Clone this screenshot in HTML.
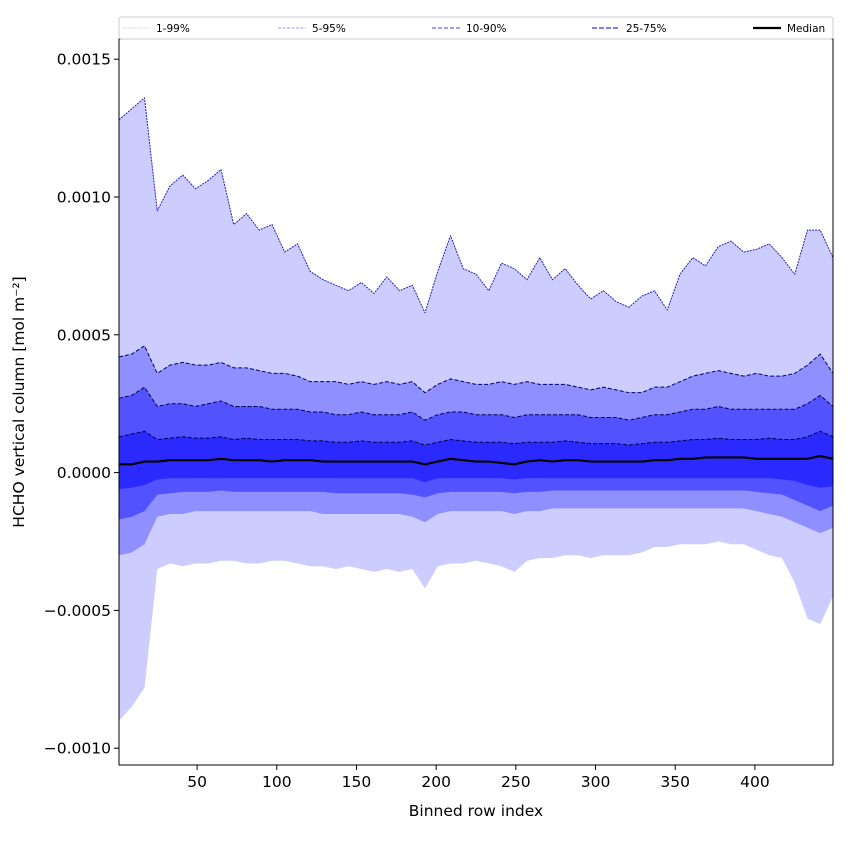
<!DOCTYPE html>
<html><head><meta charset="utf-8"><style>
body{margin:0;background:#fff;}
svg{font-family:"DejaVu Sans","Liberation Sans",sans-serif;}
</style></head><body>
<svg id="chart" width="850" height="850" viewBox="0 0 850 850">
<g id="plot"></g>
<g id="axes"></g>
<g id="legend"></g>
</svg>
<script>
const UNIT = 1e-4;
const bins = [1,9,17,25,33,41,49,57,65,73,81,89,97,105,113,121,129,137,145,153,161,169,177,185,193,201,209,217,225,233,241,249,257,265,273,281,289,297,305,313,321,329,337,345,353,361,369,377,385,393,401,409,417,425,433,441,449];
const p99 = [12.8,13.2,13.6,9.5,10.4,10.8,10.3,10.6,11.0,9.0,9.4,8.8,9.0,8.0,8.3,7.3,7.0,6.8,6.6,6.9,6.5,7.1,6.6,6.8,5.8,7.3,8.6,7.4,7.2,6.6,7.6,7.4,7.0,7.8,7.0,7.4,6.8,6.3,6.6,6.2,6.0,6.4,6.6,5.9,7.2,7.8,7.5,8.2,8.4,8.0,8.1,8.3,7.8,7.2,8.8,8.8,7.8];
const p95 = [4.2,4.3,4.6,3.6,3.9,4.0,3.9,3.9,4.0,3.8,3.8,3.7,3.6,3.6,3.5,3.3,3.3,3.3,3.2,3.3,3.2,3.3,3.2,3.3,2.9,3.2,3.4,3.3,3.2,3.2,3.3,3.2,3.3,3.2,3.2,3.2,3.1,3.0,3.1,3.0,2.9,2.9,3.1,3.1,3.3,3.5,3.6,3.7,3.6,3.5,3.6,3.5,3.5,3.6,3.9,4.3,3.6];
const p90 = [2.7,2.8,3.1,2.4,2.5,2.5,2.4,2.5,2.6,2.4,2.4,2.4,2.3,2.3,2.3,2.2,2.2,2.1,2.1,2.2,2.1,2.1,2.1,2.2,1.9,2.1,2.2,2.2,2.1,2.1,2.1,2.0,2.1,2.1,2.1,2.1,2.1,2.0,2.0,2.0,1.9,2.0,2.1,2.1,2.2,2.3,2.3,2.4,2.3,2.3,2.3,2.3,2.3,2.3,2.5,2.8,2.4];
const p75 = [1.3,1.4,1.5,1.2,1.25,1.3,1.25,1.25,1.3,1.2,1.25,1.2,1.2,1.2,1.2,1.15,1.15,1.1,1.1,1.15,1.1,1.1,1.1,1.15,1.0,1.1,1.2,1.15,1.1,1.1,1.1,1.05,1.1,1.1,1.1,1.15,1.1,1.05,1.05,1.05,1.0,1.05,1.1,1.1,1.15,1.2,1.2,1.25,1.2,1.2,1.2,1.25,1.2,1.2,1.3,1.5,1.3];
const p50 = [0.3,0.3,0.4,0.4,0.45,0.45,0.45,0.45,0.5,0.45,0.45,0.45,0.4,0.45,0.45,0.45,0.4,0.4,0.4,0.4,0.4,0.4,0.4,0.4,0.3,0.4,0.5,0.45,0.4,0.4,0.35,0.3,0.4,0.45,0.4,0.45,0.45,0.4,0.4,0.4,0.4,0.4,0.45,0.45,0.5,0.5,0.55,0.55,0.55,0.55,0.5,0.5,0.5,0.5,0.5,0.6,0.5];
const p25 = [-0.6,-0.55,-0.45,-0.25,-0.2,-0.2,-0.2,-0.2,-0.2,-0.2,-0.2,-0.2,-0.2,-0.2,-0.2,-0.2,-0.2,-0.2,-0.2,-0.2,-0.2,-0.2,-0.2,-0.2,-0.35,-0.2,-0.2,-0.2,-0.2,-0.2,-0.2,-0.25,-0.2,-0.2,-0.2,-0.2,-0.2,-0.2,-0.2,-0.2,-0.2,-0.2,-0.2,-0.2,-0.2,-0.2,-0.2,-0.2,-0.2,-0.2,-0.2,-0.2,-0.25,-0.3,-0.45,-0.55,-0.5];
const p10 = [-1.7,-1.6,-1.4,-0.8,-0.75,-0.7,-0.7,-0.7,-0.65,-0.7,-0.7,-0.7,-0.7,-0.7,-0.7,-0.7,-0.7,-0.75,-0.75,-0.75,-0.75,-0.75,-0.75,-0.8,-0.9,-0.75,-0.7,-0.7,-0.7,-0.7,-0.7,-0.75,-0.7,-0.7,-0.65,-0.65,-0.65,-0.65,-0.65,-0.65,-0.65,-0.65,-0.65,-0.65,-0.65,-0.65,-0.65,-0.65,-0.65,-0.65,-0.7,-0.75,-0.8,-1.0,-1.2,-1.4,-1.2];
const p5 = [-3.0,-2.9,-2.6,-1.6,-1.5,-1.5,-1.4,-1.4,-1.4,-1.4,-1.4,-1.4,-1.4,-1.4,-1.4,-1.4,-1.5,-1.5,-1.5,-1.5,-1.5,-1.5,-1.5,-1.6,-1.8,-1.5,-1.4,-1.4,-1.4,-1.4,-1.4,-1.5,-1.4,-1.4,-1.3,-1.3,-1.3,-1.3,-1.3,-1.3,-1.3,-1.3,-1.3,-1.3,-1.3,-1.3,-1.3,-1.3,-1.3,-1.3,-1.4,-1.5,-1.6,-1.8,-2.0,-2.2,-2.0];
const p1 = [-9.0,-8.5,-7.8,-3.5,-3.3,-3.4,-3.3,-3.3,-3.2,-3.2,-3.3,-3.3,-3.2,-3.2,-3.3,-3.4,-3.4,-3.5,-3.4,-3.5,-3.6,-3.5,-3.6,-3.5,-4.2,-3.4,-3.3,-3.3,-3.2,-3.3,-3.4,-3.6,-3.2,-3.1,-3.1,-3.0,-3.0,-3.1,-3.0,-3.0,-3.0,-2.9,-2.7,-2.7,-2.6,-2.6,-2.6,-2.5,-2.6,-2.6,-2.8,-3.0,-3.1,-4.0,-5.3,-5.5,-4.5];
const xTicks = [50,100,150,200,250,300,350,400];
const yTicks = [0.0015,0.0010,0.0005,0.0000,-0.0005,-0.0010];
const yTickLabels = ["0.0015","0.0010","0.0005","0.0000","\u22120.0005","\u22120.0010"];

const NS = "http://www.w3.org/2000/svg";
const L = 119, R = 833, T = 39, B = 765;
const xMin = 1, xMax = 449;
function xs(v){ return L + (v - xMin) / (xMax - xMin) * (R - L); }
function ys(v){ return 472.6 - v / 0.0005 * 137.8; }
function mk(tag, attrs, parent){
  const e = document.createElementNS(NS, tag);
  for (const k in attrs) e.setAttribute(k, attrs[k]);
  parent.appendChild(e); return e;
}
const plot = document.getElementById('plot');
const axes = document.getElementById('axes');
const legend = document.getElementById('legend');

function band(lo, hi, color, name){
  let d = '';
  bins.forEach((b,i)=>{ d += (i?'L':'M') + xs(b).toFixed(2) + ',' + ys(hi[i]*UNIT).toFixed(2); });
  for (let i = bins.length-1; i >= 0; i--) d += 'L' + xs(bins[i]).toFixed(2) + ',' + ys(lo[i]*UNIT).toFixed(2);
  const p = mk('path', {d: d + 'Z', fill: color, stroke: 'none'}, plot);
  
  
}
function line(arr, color, w, dash, name){
  let d = '';
  bins.forEach((b,i)=>{ d += (i?'L':'M') + xs(b).toFixed(2) + ',' + ys(arr[i]*UNIT).toFixed(2); });
  const p = mk('path', {d: d, fill: 'none', stroke: color, 'stroke-width': w, 'stroke-dasharray': dash, 'stroke-linejoin': 'round'}, plot);
  
  
}
band(p1, p99, '#ccccff', 'band-1-99');
band(p5, p95, '#8f8fff', 'band-5-95');
band(p10, p90, '#5252ff', 'band-10-90');
band(p25, p75, '#2a2aff', 'band-25-75');
line(p99, '#2222bb', 1, '2,1', 'line-p99');
line(p95, '#000066', 1, '4,2', 'line-p95');
line(p90, '#000055', 1, '4,2', 'line-p90');
line(p75, '#000044', 1, '4,2', 'line-p75');
line(p50, '#000000', 2.2, 'none', 'line-median');

const fr = mk('rect', {x:L, y:T, width:R-L, height:B-T, fill:'none', stroke:'#000', 'stroke-width':1}, axes);


xTicks.forEach(t=>{
  const x = xs(t);
  const tk = mk('line', {x1:x, x2:x, y1:B, y2:B+5, stroke:'#000'}, axes);
  
  
  const tx = mk('text', {x:x, y:B+22, 'font-size':15.5, 'text-anchor':'middle'}, axes);
  tx.textContent = t;
  
  
});
yTicks.forEach((t,i)=>{
  const y = ys(t);
  const tk = mk('line', {x1:L-5, x2:L, y1:y, y2:y, stroke:'#000'}, axes);
  
  
  const tx = mk('text', {x:L-8, y:y+5.5, 'font-size':15.5, 'text-anchor':'end'}, axes);
  tx.textContent = yTickLabels[i];
  
  
});
const xl = mk('text', {x:476, y:816, 'font-size':15.5, 'text-anchor':'middle'}, axes);
xl.textContent = 'Binned row index';


const yl = mk('text', {x:0, y:0, 'font-size':15.5, 'text-anchor':'middle', transform:'translate(24,402) rotate(-90)'}, axes);
yl.textContent = 'HCHO vertical column [mol m\u207B\u00B2]';



const lb = mk('rect', {x:119, y:17, width:714, height:22, fill:'#fff', stroke:'#ccc', 'stroke-width':1, rx:2}, legend);


const legItems = [
  {x:122, label:'1-99%', color:'#d8d8ff', w:1, dash:'2,1'},
  {x:278, label:'5-95%', color:'#9999ff', w:1, dash:'3,1.5'},
  {x:432, label:'10-90%', color:'#6666ff', w:1.2, dash:'4,2'},
  {x:592, label:'25-75%', color:'#5050ff', w:1.5, dash:'5,2'},
  {x:753, label:'Median', color:'#000', w:2.2, dash:'none'}
];
legItems.forEach(it=>{
  const g = mk('g', {}, legend);
  
  
  mk('line', {x1:it.x, x2:it.x+28, y1:28, y2:28, stroke:it.color, 'stroke-width':it.w, 'stroke-dasharray':it.dash}, g);
  const t = mk('text', {x:it.x+34, y:32, 'font-size':10.5}, g);
  t.textContent = it.label;
});
</script>
</body></html>
